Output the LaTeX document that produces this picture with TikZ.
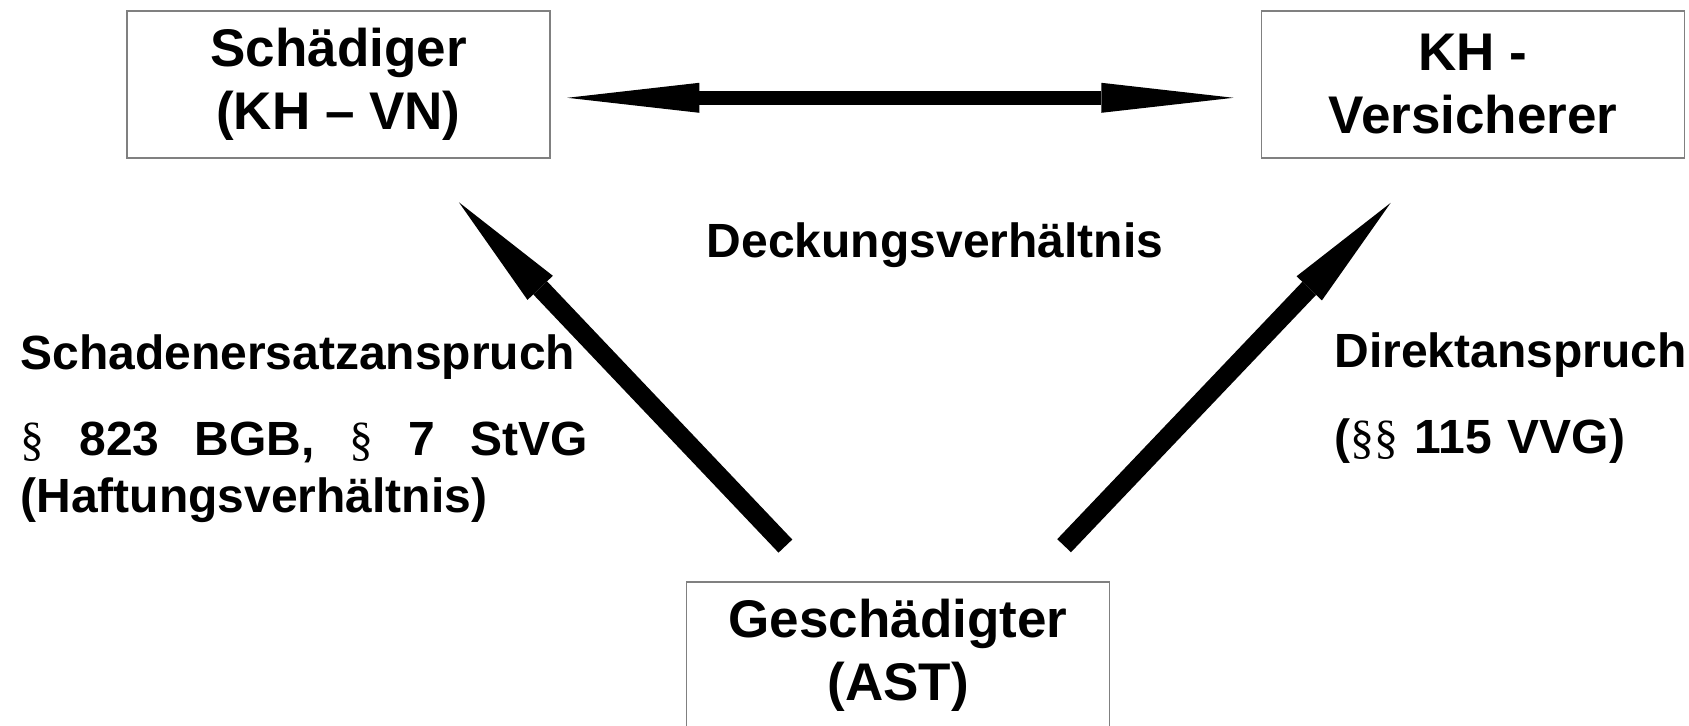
\documentclass[tikz,border=0pt]{standalone}
\usepackage{fontspec}
\setmainfont{Liberation Sans}
\newfontfamily\parafont{Liberation Serif}
\usetikzlibrary{arrows.meta}

\newcommand{\psign}{{\parafont\mdseries §}}

\begin{document}
\begin{tikzpicture}[x=0.5pt,y=-0.5pt,
  box/.style={rectangle,draw=black!50,line width=0.6pt,minimum width=211.5pt,minimum height=73.5pt,
    align=center,font=\fontsize{26.5}{31.5}\selectfont\bfseries,execute at begin node=\rule{0pt}{25pt}},
  lbl/.style={inner sep=0pt,font=\fontsize{24}{28.3}\selectfont\bfseries},
  dbl/.style={line width=7pt,{Triangle[length=66pt,width=15pt,line width=0pt]}-{Triangle[length=66pt,width=15pt,line width=0pt]}},
  claim/.style={line width=9.5pt,-{Triangle[length=59pt,width=17.5pt,line width=0pt]}}]
\clip (0,0) rectangle (1689,726);
\node at ( 338.5, 84.5) (schaed) [box] {Schädiger\\(KH – VN)};
\node at (1473,   84.5) (vers)   [box] {KH -\\Versicherer};
\node at ( 898,  655.5) (gesch)  [box] {Geschädigter\\(AST)};
\node at ( 935,  258)   (deck)   [lbl,anchor=base] {Deckungsverhältnis};
\node at (  20,  370)   (haft)   [lbl,anchor=base west,text width=283.5pt,align=left]
  {Schadenersatzanspruch\\[14.5pt]\psign\hfill 823\hfill BGB,\hfill\psign\hfill 7\hfill StVG\\(Haftungsverhältnis)};
\node at (1334,  368)   (direkt) [lbl,anchor=base west,text width=180pt,align=left]
  {Direktanspruch\\[14.5pt](\psign\psign{} 115 VVG)};
\draw [dbl] ([shift={(16.7,13.3)}]schaed.east) -- ([shift={(-27.5,13.3)}]vers.west);
\draw [claim] ([shift={(99.5,-35.3)}]gesch.north west) -- ([shift={(-91.7,43.7)}]schaed.south east);
\draw [claim] ([shift={(-46,-35.7)}]gesch.north east) -- ([shift={(129.7,44.3)}]vers.south west);
\end{tikzpicture}
\end{document}
